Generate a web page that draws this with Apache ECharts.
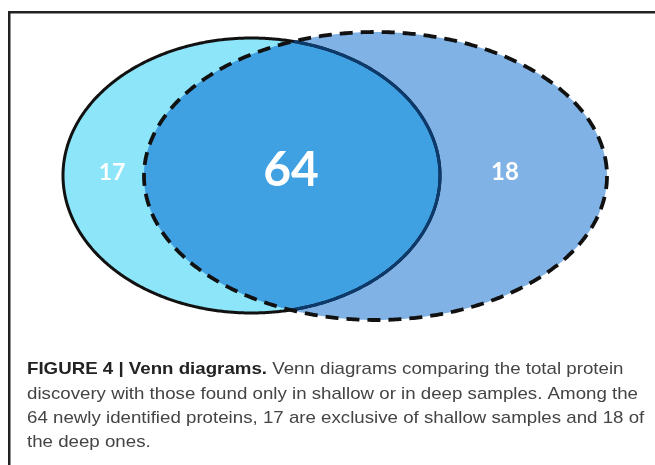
<!DOCTYPE html>
<html>
<head>
<meta charset="utf-8">
<script src="https://cdn.jsdelivr.net/npm/echarts@6/dist/echarts.min.js"></script>
<style>
html,body{margin:0;padding:0;background:#fff;}
#c{width:655px;height:465px;}
</style>
</head>
<body>
<div id="c"></div>
<script>
// ---- data ----
const regionNames = ['Shallow only', 'Shared', 'Deep only'];
const regionCounts = [17, 64, 18];
const captionBold = 'FIGURE 4 | Venn diagrams.';
const captionLines = [
  ' Venn diagrams comparing the total protein',
  'discovery with those found only in shallow or in deep samples. Among the',
  '64 newly identified proteins, 17 are exclusive of shallow samples and 18 of',
  'the deep ones.'
];

// ---- layout (axis units) ----
const shallowEllipse = { cx: 251.5, cy: 175.5, rx: 188.5, ry: 137.5 };
const deepEllipse = { cx: 375.5, cy: 176, rx: 231.5, ry: 144 };
const labelPos = [[112, 173], [291, 171], [505, 172]];
const labelSize = [23, 48, 24];

const chart = echarts.init(document.getElementById('c'), null, { renderer: 'canvas' });

function ellipsePts(e, api, n) {
  const pts = [];
  for (let i = 0; i < n; i++) {
    const t = (i / n) * Math.PI * 2;
    pts.push(api.coord([e.cx + e.rx * Math.cos(t), e.cy + e.ry * Math.sin(t)]));
  }
  return pts;
}
function inside(e, x, y) {
  const dx = (x - e.cx) / e.rx, dy = (y - e.cy) / e.ry;
  return dx * dx + dy * dy <= 1.0000001;
}
function rawPts(e, n) {
  const pts = [];
  for (let i = 0; i < n; i++) {
    const t = (i / n) * Math.PI * 2;
    pts.push([e.cx + e.rx * Math.cos(t), e.cy + e.ry * Math.sin(t)]);
  }
  return pts;
}

function renderItem(params, api) {
  const idx = params.dataIndex;
  const children = [];
  const N = 720;
  if (idx === 0) {
    const p = ellipsePts(shallowEllipse, api, N);
    children.push({ type: 'polygon', z2: 0, shape: { points: p }, style: { fill: '#8DE5F9', stroke: null } });
    children.push({ type: 'polygon', z2: 3, shape: { points: p }, style: { fill: null, stroke: '#111', lineWidth: 3 } });
  } else if (idx === 2) {
    const p = ellipsePts(deepEllipse, api, N);
    children.push({ type: 'polygon', z2: 1, shape: { points: p }, style: { fill: '#80B2E6', stroke: null } });
    children.push({ type: 'polygon', z2: 5, shape: { points: p }, style: { fill: null, stroke: '#111', lineWidth: 3.8, lineDash: [13, 8] } });
  } else {
    const a = rawPts(shallowEllipse, N).filter(q => inside(deepEllipse, q[0], q[1]));
    const b = rawPts(deepEllipse, N).filter(q => inside(shallowEllipse, q[0], q[1]));
    const all = a.concat(b);
    let mx = 0, my = 0;
    all.forEach(q => { mx += q[0]; my += q[1]; });
    mx /= all.length; my /= all.length;
    all.sort((u, v) => Math.atan2(u[1] - my, u[0] - mx) - Math.atan2(v[1] - my, v[0] - mx));
    children.push({ type: 'polygon', z2: 2, shape: { points: all.map(q => api.coord(q)) }, style: { fill: '#40A1E2', stroke: null } });
    const arc = [];
    for (let i = -N / 4; i <= N / 4; i++) {
      const t = (i / N) * Math.PI * 2;
      const q = [shallowEllipse.cx + shallowEllipse.rx * Math.cos(t), shallowEllipse.cy + shallowEllipse.ry * Math.sin(t)];
      if (inside(deepEllipse, q[0], q[1])) arc.push(api.coord(q));
    }
    children.push({ type: 'polyline', z2: 4, shape: { points: arc }, style: { fill: null, stroke: '#0C3A6C', lineWidth: 3 } });
  }
  const lp = api.coord(labelPos[idx]);
  children.push({
    type: 'text', z2: 7,
    style: {
      x: lp[0], y: lp[1], text: String(api.value(1)),
      fill: '#fff', font: 'bold ' + labelSize[idx] + 'px Lato, "Open Sans", sans-serif',
      align: 'center', verticalAlign: 'middle'
    }
  });
  return { type: 'group', children: children };
}

// caption: scaled horizontally so the widest line fits its measured width
const capFont = '17px "Liberation Sans", Arial, sans-serif';
const capBoldFont = 'bold 17px "Liberation Sans", Arial, sans-serif';
const mctx = document.createElement('canvas').getContext('2d');
mctx.font = capFont;
const capScale = 611 / mctx.measureText(captionLines[1]).width;
mctx.font = capBoldFont;
const boldW = mctx.measureText(captionBold).width;
const capX = 27, capY0 = 361, capStep = 24.4;
const capGraphics = [
  { type: 'text', x: capX, y: capY0, scaleX: capScale, style: { x: 0, y: 0, text: captionBold, font: capBoldFont, fill: '#222', verticalAlign: 'top' } },
  { type: 'text', x: capX + boldW * capScale, y: capY0, scaleX: capScale, style: { x: 0, y: 0, text: captionLines[0], font: capFont, fill: '#444', verticalAlign: 'top' } }
];
for (let i = 1; i < captionLines.length; i++) {
  capGraphics.push({ type: 'text', x: capX, y: capY0 + capStep * i, scaleX: capScale, style: { x: 0, y: 0, text: captionLines[i], font: capFont, fill: '#444', verticalAlign: 'top' } });
}

chart.setOption({
  animation: false,
  grid: { left: 0, right: 0, top: 0, bottom: 0 },
  xAxis: { type: 'value', min: 0, max: 655, show: false },
  yAxis: { type: 'value', min: 0, max: 465, inverse: true, show: false },
  graphic: [
    { type: 'rect', shape: { x: 8, y: 11, width: 660, height: 2.5 }, style: { fill: '#222' } },
    { type: 'rect', shape: { x: 8, y: 11, width: 2.5, height: 470 }, style: { fill: '#222' } }
  ].concat(capGraphics),
  series: [{
    type: 'custom',
    coordinateSystem: 'cartesian2d',
    renderItem: renderItem,
    clip: false,
    data: regionNames.map((n, i) => ({ name: n, value: [i, regionCounts[i]] }))
  }]
});
</script>
</body>
</html>
